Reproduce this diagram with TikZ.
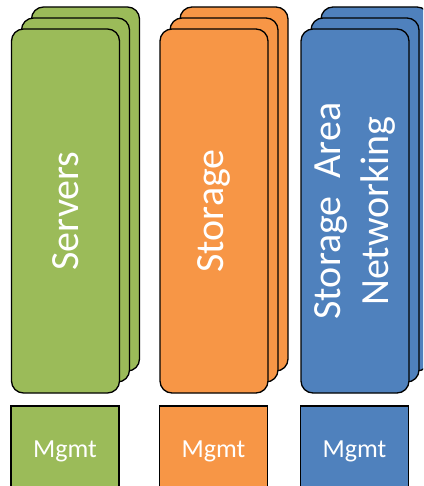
\documentclass[tikz,border=0pt]{standalone}
\usepackage{fontspec}
\setmainfont{Carlito}
\usetikzlibrary{positioning}
\definecolor{srvgreen}{HTML}{9BBB59}
\definecolor{stoorange}{HTML}{F79646}
\definecolor{sanblue}{HTML}{4F81BD}
\tikzstyle{card}=[draw=black,line width=1.3pt,rounded corners=12pt,minimum width=108pt,minimum height=364pt,inner sep=0pt]
\tikzstyle{mgmt}=[draw=black,line width=1.3pt,minimum width=108pt,minimum height=90pt,inner sep=0pt,text=white,font=\fontsize{26}{30}\selectfont]
\tikzstyle{cardtext}=[text=white,rotate=90,align=center,font=\fontsize{40}{48}\selectfont]

\begin{document}
\begin{tikzpicture}[x=1pt,y=-1pt]
  \clip (0,0) rectangle (423,486);

  % three cards per stack, back one first
  \foreach \pos/\name/\col in {{65.5/srv/srvgreen}, {214/sto/stoorange}, {355/san/sanblue}}
  {
    \node[card,fill=\col] (\name-back) at (\pos+20,189) {};
    \node[card,fill=\col] (\name-mid) at (\pos+10,200) {};
    \node[card,fill=\col] (\name-front) at (\pos,211) {};
    \node[mgmt,fill=\col] (\name-mgmt) at (\pos-0.5,451) {Mgmt};
  }

  \node[cardtext] (srv-label) at (srv-front) {Servers};
  \node[cardtext] (sto-label) at (sto-front) {Storage};
  \node[cardtext] (san-label) at (san-front) {Storage~~Area\\Networking};
\end{tikzpicture}
\end{document}
